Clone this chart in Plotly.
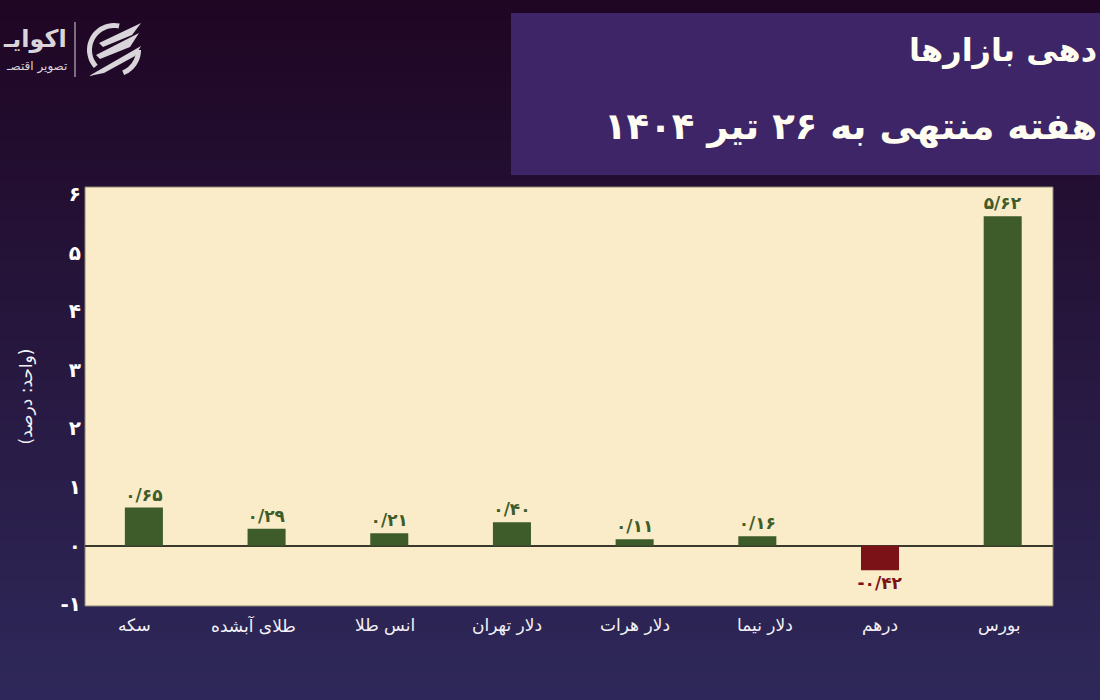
import numpy as np
import plotly.graph_objects as go

categories = ["سکه", "طلای آبشده", "انس طلا", "دلار تهران", "دلار هرات", "دلار نیما", "درهم", "بورس"]
returns = [0.65, 0.29, 0.21, 0.40, 0.11, 0.16, -0.42, 5.62]
value_labels = ["۰/۶۵", "۰/۲۹", "۰/۲۱", "۰/۴۰", "۰/۱۱", "۰/۱۶", "-۰/۴۲", "۵/۶۲"]
y_ticks = [-1, 0, 1, 2, 3, 4, 5, 6]
y_tick_labels = ["-۱", "۰", "۱", "۲", "۳", "۴", "۵", "۶"]
# the category names in the original do not sit exactly under their bars
label_shift = [-9, -13, -4, -5, 0, 8, 0, -4]

FONT = "DejaVu Sans"
GREEN = "#3e5c2a"
RED = "#7a1217"
PLOT_L, PLOT_R, PLOT_T, PLOT_B = 85, 1053, 187, 606


def px(x, y):
    return (x - PLOT_L) / (PLOT_R - PLOT_L), (PLOT_B - y) / (PLOT_B - PLOT_T)


def path(points):
    pts = [px(x, y) for x, y in points]
    return "M " + " L ".join(f"{x:.4f} {y:.4f}" for x, y in pts) + " Z"


def arc(cx, cy, r_out, r_in, a0, a1):
    a = np.radians(np.linspace(a0, a1, 24))
    outer = [(cx + r_out * np.cos(t), cy - r_out * np.sin(t)) for t in a]
    inner = [(cx + r_in * np.cos(t), cy - r_in * np.sin(t)) for t in a[::-1]]
    return path(outer + inner)


shapes = []

# background gradient, drawn as thin bands
top_c = np.array([31, 6, 35])
bot_c = np.array([46, 40, 90])
for i in range(70):
    c = top_c + (bot_c - top_c) * i / 69
    x0, y0 = px(0, i * 10)
    x1, y1 = px(1100, (i + 1) * 10 + 1)
    shapes.append(dict(type="rect", xref="paper", yref="paper", x0=x0, x1=x1, y0=y0, y1=y1,
                       fillcolor=f"rgb({c[0]:.0f},{c[1]:.0f},{c[2]:.0f})", line_width=0, layer="below"))

# title box
x0, y0 = px(511, 13)
x1, y1 = px(1100, 175)
shapes.append(dict(type="rect", xref="paper", yref="paper", x0=x0, x1=x1, y0=y0, y1=y1,
                   fillcolor="#3e2567", line_width=0, layer="below"))

# plot background
shapes.append(dict(type="rect", xref="paper", yref="paper", x0=0, x1=1, y0=0, y1=1,
                   fillcolor="#faecc8", line=dict(color="#8d8672", width=1), layer="below"))

# logo
LOGO = "#d9d5da"
x0, y0 = px(75, 22)
x1, y1 = px(75, 77)
shapes.append(dict(type="line", xref="paper", yref="paper", x0=x0, x1=x1, y0=y0, y1=y1,
                   line=dict(color=LOGO, width=1)))
for d in [
    arc(114, 50, 27, 22, 78, 222),
    arc(114, 50, 27, 22, 0, -68),
    path([(141, 23), (99, 43), (103, 47), (132, 35)]),
    path([(139, 33), (96, 55), (100, 59), (130, 47)]),
    path([(141, 46), (89, 76), (104, 73), (135, 56)]),
]:
    shapes.append(dict(type="path", xref="paper", yref="paper", path=d, fillcolor=LOGO, line_width=0))


def note(text, x, y, size, color, anchor="left", bold=True):
    ax, ay = px(x, y)
    return dict(text=text, x=ax, y=ay, xref="paper", yref="paper", xanchor=anchor, yanchor="middle",
                showarrow=False, font=dict(family=FONT, size=size, color=color, weight=700 if bold else 400))


annotations = [
    note("دهی بازارها", 1099, 50, 32, "#fffdf2", anchor="right"),
    note("هفته منتهی به ۲۶ تیر ۱۴۰۴", 1099, 127, 37, "#fffdf2", anchor="right"),
    note("اکوایـ", 69, 39, 24, LOGO, anchor="right"),
    note("تصویر اقتصـ", 69, 66, 12, LOGO, anchor="right", bold=False),
]
for i, name in enumerate(categories):
    annotations.append(dict(text=name, x=i, y=(PLOT_B - 625) / (PLOT_B - PLOT_T), xref="x", yref="paper",
                            xanchor="center", yanchor="middle", xshift=label_shift[i], showarrow=False,
                            font=dict(family=FONT, size=17, color="#f4f2f6")))

fig = go.Figure(go.Bar(
    x=list(range(len(categories))),
    y=returns,
    width=0.31,
    marker_color=[GREEN if v >= 0 else RED for v in returns],
    marker_line_width=0,
    text=value_labels,
    textposition="outside",
    constraintext="none",
    cliponaxis=False,
    textfont=dict(family=FONT, size=17, weight=700, color=[GREEN if v >= 0 else RED for v in returns]),
))

fig.update_layout(
    width=1100,
    height=700,
    autosize=False,
    margin=dict(l=PLOT_L, r=1100 - PLOT_R, t=PLOT_T, b=700 - PLOT_B, pad=0),
    paper_bgcolor="#2a1a45",
    plot_bgcolor="rgba(0,0,0,0)",
    shapes=shapes,
    annotations=annotations,
    showlegend=False,
    font=dict(family=FONT, color="white"),
)
fig.update_xaxes(
    range=[-0.48, 7.41],
    showticklabels=False,
    showgrid=False,
    zeroline=False,
    showline=False,
    ticks="",
)
fig.update_yaxes(
    range=[-1.03, 6.12],
    tickmode="array",
    tickvals=y_ticks,
    ticktext=y_tick_labels,
    tickfont=dict(family=FONT, size=20, color="white", weight=700),
    ticklabelstandoff=3,
    title=dict(text="(واحد: درصد)", font=dict(family=FONT, size=17, color="#f4f2f6"), standoff=23),
    showgrid=False,
    zeroline=True,
    zerolinecolor="#3a3a2c",
    zerolinewidth=1.5,
    showline=False,
    ticks="",
)

# drop the page margin so the figure fills the window
fig.write_html("out.html", config=dict(displayModeBar=False),
               post_script="document.body.style.margin='0';")
